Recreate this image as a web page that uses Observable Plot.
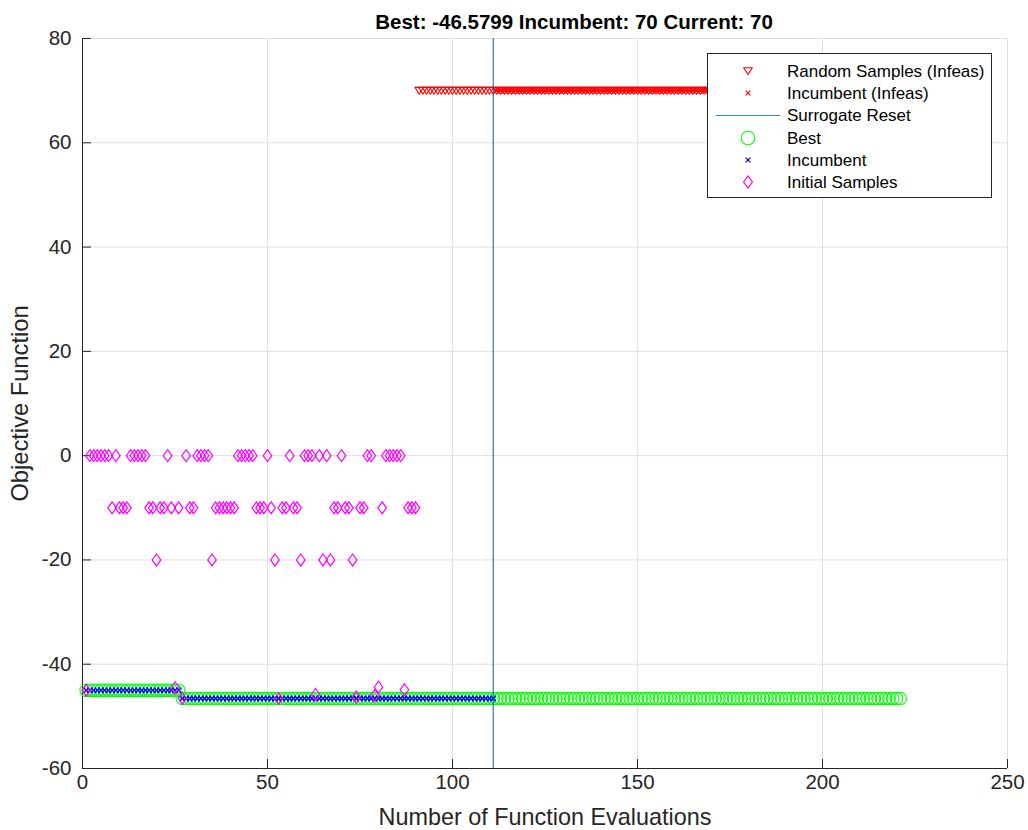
<!DOCTYPE html>
<html><head><meta charset="utf-8">
<script src="https://cdn.jsdelivr.net/npm/d3@7"></script>
<script src="https://cdn.jsdelivr.net/npm/@observablehq/plot@0.6"></script>
<style>body{margin:0;background:#fff;}</style>
</head><body><div id="chart"></div>
<script>
const titleText = "Best: -46.5799 Incumbent: 70 Current: 70";
const xLabel = "Number of Function Evaluations";
const yLabel = "Objective Function";
const xTicks = [0, 50, 100, 150, 200, 250];
const yTicks = [-60, -40, -20, 0, 20, 40, 60, 80];

// Initial samples (evaluations 1..90)
const initZeroX = [2,3,4,5,6,7,9,13,14,15,16,17,23,28,31,32,33,34,42,43,44,45,46,50,56,60,61,62,64,66,70,77,78,82,83,84,85,86];
const initMinus10X = [8,10,11,12,18,19,21,22,24,26,29,30,36,37,38,39,40,41,47,48,49,51,54,55,57,58,68,69,71,72,75,76,81,88,89,90];
const initMinus20X = [20,35,52,59,65,67,73];
const initLowX = [1,25,27,53,63,74,79,80,87];
const initLowY = [-45.0,-44.5,-46.58,-46.6,-45.8,-46.3,-46.0,-44.4,-44.9];

// Constant runs: [first evaluation, last evaluation, value]
const bestSegments = [[1, 26, -45.0], [27, 221, -46.5799]];
const incumbentSegments = [[1, 26, -45.0], [27, 111, -46.5799]];
const randomInfeasSegments = [[91, 221, 70]];
const incumbentInfeasSegments = [[112, 221, 70]];
const resetX = [111];

const legendLabels = ["Random Samples (Infeas)", "Incumbent (Infeas)", "Surrogate Reset", "Best", "Incumbent", "Initial Samples"];

function expand(segs) {
  const out = [];
  for (const [a, b, v] of segs) for (let i = a; i <= b; i++) out.push({x: i, y: v});
  return out;
}
const initial = [
  ...initZeroX.map(x => ({x, y: 0})),
  ...initMinus10X.map(x => ({x, y: -10})),
  ...initMinus20X.map(x => ({x, y: -20})),
  ...initLowX.map((x, i) => ({x, y: initLowY[i]}))
];
const best = expand(bestSegments);
const incumbent = expand(incumbentSegments);
const randomInfeas = expand(randomInfeasSegments);
const incumbentInfeas = expand(incumbentInfeasSegments);

const diamondTall = {draw(ctx, size) { const r = Math.sqrt(size / Math.PI); const w = r * 0.8, h = r * 1.1;
  ctx.moveTo(0, -h); ctx.lineTo(w, 0); ctx.lineTo(0, h); ctx.lineTo(-w, 0); ctx.closePath(); }};
const triDown = {draw(ctx, size) { const r = Math.sqrt(size / Math.PI);
  ctx.moveTo(-r * 0.9, -r * 0.7); ctx.lineTo(r * 0.9, -r * 0.7); ctx.lineTo(0, r * 0.75); ctx.closePath(); }};
const cross = {draw(ctx, size) { const r = Math.sqrt(size / Math.PI);
  ctx.moveTo(-r, -r); ctx.lineTo(r, r); ctx.moveTo(r, -r); ctx.lineTo(-r, r); }};

const dark = "#262626";
const grid = "#dfdfdf";
const font = "'Liberation Sans', Arial, Helvetica, sans-serif";
const fmt = d => String(d);

const plot = Plot.plot({
  width: 1028, height: 830,
  marginLeft: 82, marginRight: 21, marginTop: 38, marginBottom: 62,
  style: {fontFamily: font, fontSize: "20px", color: dark, background: "#fff", overflow: "visible"},
  x: {domain: [0, 250], label: null},
  y: {domain: [-60, 80], label: null},
  marks: [
    Plot.gridX(xTicks, {stroke: grid, strokeOpacity: 1}),
    Plot.gridY(yTicks, {stroke: grid, strokeOpacity: 1}),
    Plot.axisX(xTicks, {tickSize: 0, tickPadding: 6, label: null, fill: dark, fontSize: 20.5, tickFormat: fmt}),
    Plot.axisY(yTicks, {tickSize: 0, tickPadding: 11, label: null, fill: dark, fontSize: 20.5, tickFormat: fmt}),
    Plot.axisX(xTicks, {tickSize: 9, dy: -9, tickFormat: () => "", label: null, stroke: dark}),
    Plot.axisY(yTicks, {tickSize: 9, dx: 9, tickFormat: () => "", label: null, stroke: dark}),
    Plot.ruleX([0], {stroke: dark}),
    Plot.ruleY([-60], {stroke: dark}),
    Plot.dot(best, {x: "x", y: "y", r: 6.3, stroke: "#00ff00", strokeWidth: 1.1, fill: "none"}),
    Plot.dot(incumbent, {x: "x", y: "y", r: 2.7, symbol: cross, stroke: "#0000ff", strokeWidth: 1.3}),
    Plot.dot(randomInfeas, {x: "x", y: "y", r: 4.7, symbol: triDown, stroke: "#ff0000", strokeWidth: 1.1, fill: "none"}),
    Plot.dot(incumbentInfeas, {x: "x", y: "y", r: 2.7, symbol: cross, stroke: "#ff0000", strokeWidth: 1.3}),
    Plot.dot(initial, {x: "x", y: "y", r: 5.4, symbol: diamondTall, stroke: "#ff00ff", strokeWidth: 1.2, fill: "none"}),
    Plot.ruleX(resetX, {stroke: "#0b5a9e", strokeWidth: 1}),
    Plot.text([titleText], {frameAnchor: "top", dx: 29, dy: -24, fontWeight: "bold", fontSize: 20.5, fill: "#000", textAnchor: "middle"}),
    Plot.text([yLabel], {frameAnchor: "left", rotate: -90, dx: -62, fontSize: 23.7, fill: dark, textAnchor: "middle"}),
    Plot.text([xLabel], {frameAnchor: "bottom", dy: 56, fontSize: 23.4, fill: dark, textAnchor: "middle"})
  ]
});
document.getElementById("chart").appendChild(plot);

// Legend
const svg = d3.select(plot);
const lg = svg.append("g").attr("font-family", font).attr("font-size", 17).attr("text-anchor", "start");
lg.append("rect").attr("x", 707.5).attr("y", 53.5).attr("width", 284).attr("height", 144)
  .attr("fill", "#fff").attr("stroke", dark).attr("stroke-width", 1);
const rows = [71, 93, 115.5, 138, 160, 182];
const mx = 748;
const sym = (type, r) => d3.symbol(type, Math.PI * r * r)();
lg.append("path").attr("transform", `translate(${mx},${rows[0]})`).attr("d", sym(triDown, 4.7)).attr("fill", "none").attr("stroke", "#ff0000").attr("stroke-width", 1.1);
lg.append("path").attr("transform", `translate(${mx},${rows[1]})`).attr("d", sym(cross, 2.4)).attr("fill", "none").attr("stroke", "#ff0000").attr("stroke-width", 1.2);
lg.append("line").attr("x1", 716).attr("x2", 780).attr("y1", rows[2]).attr("y2", rows[2]).attr("stroke", "#2f86d0");
lg.append("circle").attr("cx", mx).attr("cy", rows[3]).attr("r", 6.8).attr("fill", "none").attr("stroke", "#00ff00").attr("stroke-width", 1.1);
lg.append("path").attr("transform", `translate(${mx},${rows[4]})`).attr("d", sym(cross, 2.4)).attr("fill", "none").attr("stroke", "#0000ff").attr("stroke-width", 1.2);
lg.append("path").attr("transform", `translate(${mx},${rows[5]})`).attr("d", sym(diamondTall, 5.5)).attr("fill", "none").attr("stroke", "#ff00ff").attr("stroke-width", 1.2);
legendLabels.forEach((t, i) => {
  lg.append("text").attr("x", 787).attr("y", rows[i]).attr("dy", "0.35em").attr("fill", "#000").text(t);
});
</script>
</body></html>
